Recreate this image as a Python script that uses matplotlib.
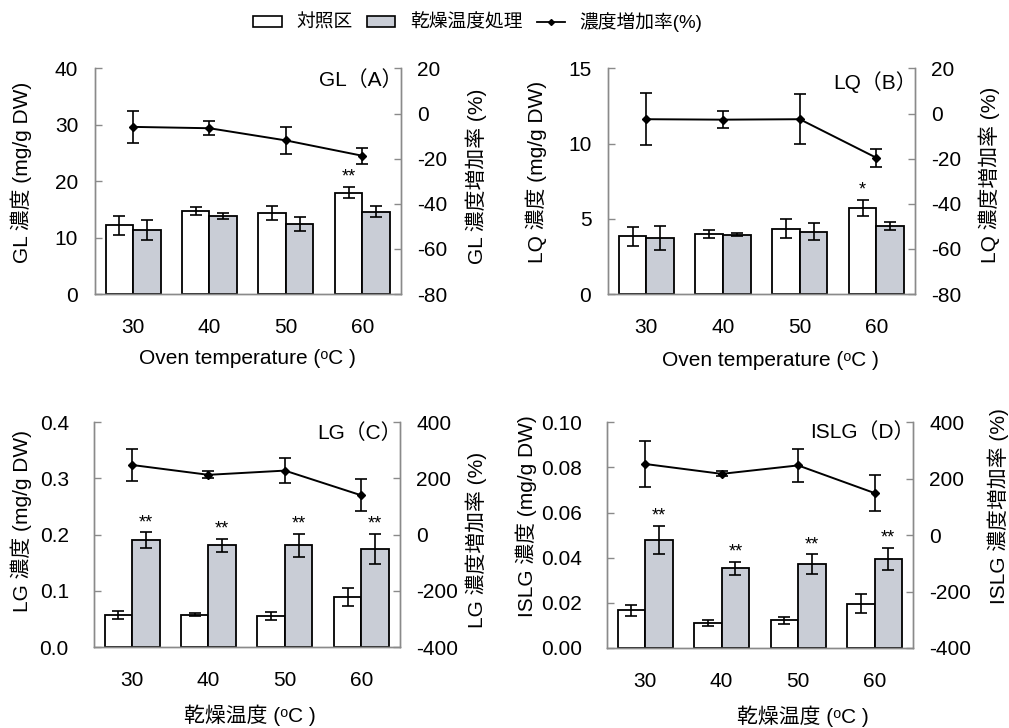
import numpy as np
import matplotlib
matplotlib.use("Agg")
import matplotlib.pyplot as plt
from matplotlib.patches import Patch
from matplotlib.lines import Line2D

plt.rcParams['font.family'] = ['Liberation Sans', 'Noto Sans CJK JP', 'DejaVu Sans']

temps = ['30', '40', '50', '60']

# (A) GL
gl_ctrl = [12.2, 14.8, 14.4, 18.0]
gl_ctrl_err = [1.7, 0.7, 1.2, 1.0]
gl_trt = [11.4, 13.9, 12.4, 14.6]
gl_trt_err = [1.8, 0.5, 1.2, 1.0]
gl_rate = [-5.9, -6.5, -11.9, -18.7]
gl_rate_err = [7.1, 3.0, 5.9, 3.5]
gl_ctrl_sig = ['', '', '', '**']
gl_trt_sig = ['', '', '', '']

# (B) LQ
lq_ctrl = [3.83, 4.00, 4.36, 5.71]
lq_ctrl_err = [0.62, 0.25, 0.64, 0.55]
lq_trt = [3.74, 3.94, 4.16, 4.54]
lq_trt_err = [0.82, 0.09, 0.55, 0.26]
lq_rate = [-2.5, -2.7, -2.5, -19.6]
lq_rate_err = [11.5, 3.7, 11.1, 4.0]
lq_ctrl_sig = ['', '', '', '*']
lq_trt_sig = ['', '', '', '']

# (C) LG
lg_ctrl = [0.058, 0.058, 0.056, 0.090]
lg_ctrl_err = [0.007, 0.003, 0.007, 0.016]
lg_trt = [0.190, 0.181, 0.181, 0.175]
lg_trt_err = [0.014, 0.012, 0.021, 0.027]
lg_rate = [248, 213, 228, 140]
lg_rate_err = [58, 12, 44, 57]
lg_ctrl_sig = ['', '', '', '']
lg_trt_sig = ['**', '**', '**', '**']

# (D) ISLG
islg_ctrl = [0.0166, 0.0110, 0.0123, 0.0195]
islg_ctrl_err = [0.0024, 0.0012, 0.0016, 0.0042]
islg_trt = [0.0479, 0.0352, 0.0371, 0.0395]
islg_trt_err = [0.0062, 0.0030, 0.0043, 0.0049]
islg_rate = [252, 217, 247, 149]
islg_rate_err = [82, 9, 58, 63]
islg_ctrl_sig = ['', '', '', '']
islg_trt_sig = ['**', '**', '**', '**']

FILL = '#c9cdd6'
SPINE = '#8a8a8a'
FS = 15
BW = 0.36


def draw_panel(rect, ctrl, ctrl_err, trt, trt_err, rate, rate_err, ctrl_sig, trt_sig,
               ylim, yticks, yfmt, rlim, rticks, title, title_y, ylabel, rlabel, xlabel,
               ylab_pos, rlab_pos, xlab_pos, ypad=12):
    ax = fig.add_axes(rect)
    ax2 = ax.twinx()
    x = np.arange(len(temps))
    ekw = dict(ecolor='black', elinewidth=1.2, capsize=4.5, capthick=1.2)
    ax.bar(x - BW / 2, ctrl, BW, color='white', edgecolor='black', linewidth=1.3,
           yerr=ctrl_err, error_kw=ekw)
    ax.bar(x + BW / 2, trt, BW, color=FILL, edgecolor='black', linewidth=1.3,
           yerr=trt_err, error_kw=ekw)
    # significance marks above the error bars
    for i in range(len(temps)):
        if ctrl_sig[i]:
            ax.annotate(ctrl_sig[i], (x[i] - BW / 2, ctrl[i] + ctrl_err[i]), xytext=(0, 1),
                        textcoords='offset points', ha='center', va='bottom', fontsize=13)
        if trt_sig[i]:
            ax.annotate(trt_sig[i], (x[i] + BW / 2, trt[i] + trt_err[i]), xytext=(0, 1),
                        textcoords='offset points', ha='center', va='bottom', fontsize=13)
    ax2.errorbar(x, rate, yerr=rate_err, color='black', linewidth=1.4, marker='D',
                 markersize=4, capsize=4.5, elinewidth=1.2, capthick=1.2)

    ax.set_xlim(-0.5, len(temps) - 0.5)
    ax.set_xticks(x)
    ax.set_xticklabels(temps)
    ax.set_ylim(*ylim)
    ax.set_yticks(yticks)
    ax.set_yticklabels([yfmt.format(v) for v in yticks])
    ax2.set_ylim(*rlim)
    ax2.set_yticks(rticks)
    ax2.set_yticklabels([str(v) for v in rticks])

    for a in (ax, ax2):
        a.spines['top'].set_visible(False)
        for s in ('left', 'right', 'bottom'):
            a.spines[s].set_color(SPINE)
            a.spines[s].set_linewidth(1.0)
    ax.tick_params(axis='x', length=0, pad=17, labelsize=FS)
    ax.tick_params(axis='y', direction='in', length=5, width=1, color=SPINE, pad=ypad,
                   labelsize=FS)
    ax2.tick_params(axis='y', direction='in', length=5, width=1, color=SPINE, pad=12,
                    labelsize=FS)

    ax.text(1.006, title_y, title, transform=ax.transAxes, ha='right', va='center', fontsize=FS)
    ax.set_ylabel(ylabel, fontsize=FS)
    ax2.set_ylabel(rlabel, fontsize=FS)
    ax.set_xlabel(xlabel, fontsize=FS)
    ax.yaxis.set_label_coords(*ylab_pos)
    ax2.yaxis.set_label_coords(*rlab_pos)
    ax.xaxis.set_label_coords(*xlab_pos)
    return ax, ax2


fig = plt.figure(figsize=(10.09, 7.28), dpi=100)

oven = 'Oven temperature (ᵒC )'
dry = '乾燥温度 (ᵒC )'

draw_panel([0.094, 0.596, 0.303, 0.310], gl_ctrl, gl_ctrl_err, gl_trt, gl_trt_err,
           gl_rate, gl_rate_err, gl_ctrl_sig, gl_trt_sig,
           (0, 40), [0, 10, 20, 30, 40], '{:.0f}', (-80, 20), [-80, -60, -40, -20, 0, 20],
           'GL（A）', 0.947, 'GL 濃度 (mg/g DW)', 'GL 濃度増加率 (%)', oven,
           (-0.206, 0.54), (1.212, 0.52), (0.5, -0.243))

draw_panel([0.6026, 0.596, 0.304, 0.310], lq_ctrl, lq_ctrl_err, lq_trt, lq_trt_err,
           lq_rate, lq_rate_err, lq_ctrl_sig, lq_trt_sig,
           (0, 15), [0, 5, 10, 15], '{:.0f}', (-80, 20), [-80, -60, -40, -20, 0, 20],
           'LQ（B）', 0.94, 'LQ 濃度 (mg/g DW)', 'LQ 濃度増加率 (%)', oven,
           (-0.199, 0.54), (1.208, 0.53), (0.53, -0.252))

draw_panel([0.093, 0.111, 0.303, 0.309], lg_ctrl, lg_ctrl_err, lg_trt, lg_trt_err,
           lg_rate, lg_rate_err, lg_ctrl_sig, lg_trt_sig,
           (0, 0.4), [0.0, 0.1, 0.2, 0.3, 0.4], '{:.1f}', (-400, 400), [-400, -200, 0, 200, 400],
           'LG（C）', 0.95, 'LG 濃度 (mg/g DW)', 'LG 濃度増加率 (%)', dry,
           (-0.203, 0.56), (1.216, 0.475), (0.51, -0.253), ypad=18)

draw_panel([0.6016, 0.110, 0.303, 0.310], islg_ctrl, islg_ctrl_err, islg_trt, islg_trt_err,
           islg_rate, islg_rate_err, islg_ctrl_sig, islg_trt_sig,
           (0, 0.10), [0.0, 0.02, 0.04, 0.06, 0.08, 0.10], '{:.2f}', (-400, 400),
           [-400, -200, 0, 200, 400],
           'ISLG（D）', 0.955, 'ISLG 濃度 (mg/g DW)', 'ISLG 濃度増加率 (%)', dry,
           (-0.229, 0.584), (1.245, 0.63), (0.64, -0.257), ypad=18)

handles = [Patch(facecolor='white', edgecolor='black', linewidth=1.2),
           Patch(facecolor=FILL, edgecolor='black', linewidth=1.2),
           Line2D([0], [0], color='black', linewidth=1.3, marker='D', markersize=3)]
labels = ['対照区', '乾燥温度処理', '濃度増加率(%)']
fig.legend(handles, labels, loc='center', bbox_to_anchor=(478 / 1009, 1 - 22 / 728), ncol=3,
           frameon=False, fontsize=13.5, handlelength=1.5, handleheight=0.5,
           handletextpad=0.8, columnspacing=0.75)

fig.savefig('out.png', dpi=100)
